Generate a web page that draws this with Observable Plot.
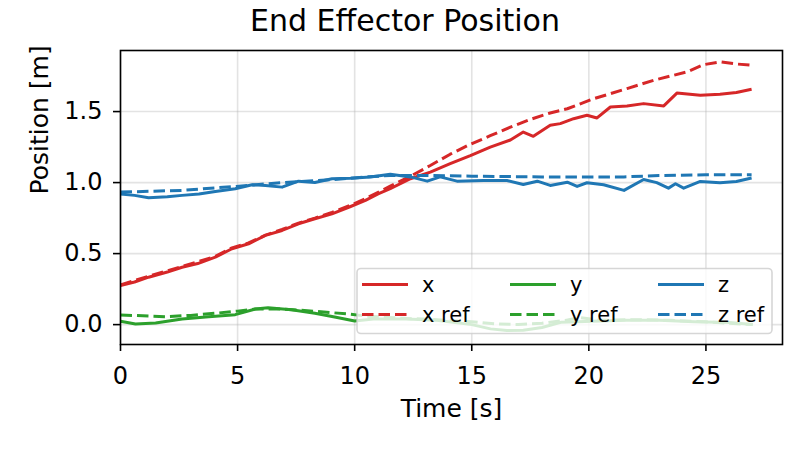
<!DOCTYPE html>
<html>
<head>
<meta charset="utf-8">
<script src="https://cdn.jsdelivr.net/npm/d3@7"></script>
<script src="https://cdn.jsdelivr.net/npm/@observablehq/plot@0.6"></script>
<style>
  body { margin: 0; background: #fff; font-family: "DejaVu Sans", sans-serif; }
  #wrap { position: relative; width: 810px; height: 450px; overflow: hidden; }
  #title { box-sizing: border-box; height: 44px; padding-top: 6px; line-height: 30px; font-size: 30px; text-align: center; width: 810px; color: #000; }
  #legend { position: absolute; left: 0; top: 0; pointer-events: none; }
</style>
</head>
<body>
<div id="wrap">
  <div id="title">End Effector Position</div>
  <div id="chart"></div>
  <svg id="legend" width="810" height="450"></svg>
</div>
<script>
// ---- data ----
const xTicks = [0, 5, 10, 15, 20, 25];
const yTicks = [0, 0.5, 1.0, 1.5];

const timeX = [0, 0.6, 1.2, 2.0, 2.63, 3.3, 4.05, 4.76, 5.47, 6.19, 6.9, 7.6, 8.3, 9.03, 9.8, 10.46, 11.0, 11.52, 12.38, 13.23, 14.08, 14.94, 15.79, 16.65, 17.2, 17.63, 18.35, 18.78, 19.35, 19.92, 20.35, 20.92, 21.63, 22.34, 23.2, 23.76, 24.76, 25.6, 26.3, 26.95];
const posX  = [0.275, 0.30, 0.334, 0.37, 0.404, 0.43, 0.475, 0.534, 0.569, 0.628, 0.663, 0.71, 0.745, 0.78, 0.83, 0.875, 0.92, 0.957, 1.027, 1.074, 1.133, 1.19, 1.25, 1.30, 1.356, 1.326, 1.403, 1.415, 1.45, 1.474, 1.455, 1.532, 1.54, 1.556, 1.54, 1.63, 1.615, 1.622, 1.634, 1.657];

const timeXRef = [0, 1.2, 2.63, 4.05, 4.76, 5.47, 6.19, 6.9, 7.6, 8.3, 9.03, 9.82, 10.5, 11.52, 12.38, 13.23, 14.08, 14.94, 15.79, 16.65, 17.5, 18.35, 19.08, 20.2, 21.63, 22.77, 24.2, 24.9, 25.6, 26.3, 26.95];
const posXRef  = [0.28, 0.34, 0.41, 0.48, 0.54, 0.575, 0.63, 0.67, 0.715, 0.75, 0.79, 0.84, 0.89, 0.975, 1.045, 1.12, 1.2, 1.27, 1.33, 1.39, 1.445, 1.49, 1.52, 1.59, 1.662, 1.72, 1.78, 1.83, 1.85, 1.835, 1.826];

const timeY = [0, 0.64, 1.5, 2.63, 3.77, 4.9, 5.76, 6.3, 7.3, 8.3, 9.2, 10.0, 10.8, 12.2, 13.5, 15.0, 15.8, 16.5, 17.2, 18.0, 18.8, 19.5, 20.5, 21.6, 23.0, 24.5, 26.0, 27.0];
const posY  = [0.023, 0.005, 0.012, 0.04, 0.056, 0.07, 0.11, 0.118, 0.104, 0.08, 0.052, 0.025, 0.04, 0.04, 0.03, 0.0, -0.03, -0.042, -0.04, -0.02, 0.016, 0.02, 0.025, 0.03, 0.03, 0.02, 0.015, 0.0];

const timeYRef = [0, 1.93, 3.0, 4.05, 5.0, 5.76, 6.9, 8.3, 9.7, 10.5, 12.0, 13.5, 15.0, 16.0, 17.0, 18.0, 19.0, 19.6, 20.5, 22.0, 23.5, 25.0, 27.0];
const posYRef  = [0.068, 0.056, 0.065, 0.08, 0.095, 0.11, 0.11, 0.094, 0.075, 0.06, 0.045, 0.035, 0.02, 0.005, 0.0, 0.01, 0.03, 0.05, 0.03, 0.035, 0.03, 0.02, 0.0];

const timeZ = [0, 0.6, 1.2, 2.0, 2.63, 3.35, 4.05, 4.9, 5.62, 6.19, 6.9, 7.6, 8.3, 9.03, 9.82, 10.67, 11.52, 12.38, 13.1, 13.65, 14.37, 15.5, 16.5, 17.2, 17.8, 18.35, 19.08, 19.5, 19.92, 20.63, 21.5, 22.34, 22.9, 23.4, 23.7, 24.05, 24.76, 25.6, 26.3, 26.95];
const posZ  = [0.92, 0.91, 0.893, 0.90, 0.91, 0.92, 0.938, 0.957, 0.985, 0.98, 0.968, 1.01, 1.0, 1.027, 1.03, 1.039, 1.058, 1.04, 1.01, 1.04, 1.01, 1.015, 1.015, 0.987, 1.01, 0.98, 1.003, 0.973, 0.999, 0.985, 0.945, 1.022, 1.0, 0.961, 0.992, 0.961, 1.008, 0.999, 1.008, 1.032];

const timeZRef = [0, 2.63, 4.9, 6.9, 9.0, 10.5, 11.52, 13.0, 15.0, 18.0, 21.5, 23.0, 25.0, 26.95];
const posZRef  = [0.933, 0.945, 0.973, 1.0, 1.02, 1.04, 1.05, 1.05, 1.045, 1.04, 1.04, 1.05, 1.055, 1.056];

const seriesNames = ["x", "x ref", "y", "y ref", "z", "z ref"];

// ---- styles ----
const colorOf = {"x": "#d62728", "x ref": "#d62728", "y": "#2ca02c", "y ref": "#2ca02c", "z": "#1f77b4", "z ref": "#1f77b4"};
const dashOf = name => name.endsWith("ref") ? "11.5,5" : null;

const pairs = (ts, vs) => ts.map((t, i) => ({t, v: vs[i]}));
const seriesData = {
  "x": pairs(timeX, posX),
  "x ref": pairs(timeXRef, posXRef),
  "y": pairs(timeY, posY),
  "y ref": pairs(timeYRef, posYRef),
  "z": pairs(timeZ, posZ),
  "z ref": pairs(timeZRef, posZRef)
};

const lineMarks = seriesNames.map(name => Plot.line(seriesData[name], {
  x: "t", y: "v", stroke: colorOf[name], strokeWidth: 3,
  strokeDasharray: dashOf(name), strokeLinejoin: "round", strokeLinecap: "butt"
}));

const chart = Plot.plot({
  width: 810, height: 406,
  marginLeft: 120, marginRight: 28, marginTop: 6, marginBottom: 106,
  x: {domain: [0, 28.27]},
  y: {domain: [-0.14, 1.93]},
  style: {fontFamily: "DejaVu Sans", color: "black", background: "white", overflow: "visible"},
  marks: [
    Plot.gridX(xTicks, {stroke: "#b0b0b0", strokeOpacity: 0.35, strokeWidth: 1.6}),
    Plot.gridY(yTicks, {stroke: "#b0b0b0", strokeOpacity: 0.35, strokeWidth: 1.6}),
    ...lineMarks,
    Plot.frame({stroke: "black", strokeWidth: 1.6}),
    Plot.axisX(xTicks, {tickSize: 7, tickPadding: 15, fontSize: 24, strokeWidth: 1.6, label: null, tickFormat: d3.format("d")}),
    Plot.axisY(yTicks, {tickSize: 7, tickPadding: 11, fontSize: 24, strokeWidth: 1.6, label: null, tickFormat: d3.format(".1f")}),
    Plot.text(["Time [s]"], {text: d => d, frameAnchor: "bottom", dy: 72, lineAnchor: "bottom", fontSize: 25, fill: "black"}),
    Plot.text(["Position [m]"], {text: d => d, frameAnchor: "left", dx: -81, dy: -3, rotate: -90, fontSize: 25, fill: "black"})
  ]
});
document.getElementById("chart").appendChild(chart);

// ---- legend overlay (semi-transparent box like the reference) ----
const lg = d3.select("#legend");
lg.append("rect")
  .attr("x", 357).attr("y", 268.5).attr("width", 415).attr("height", 65)
  .attr("rx", 4).attr("ry", 4)
  .attr("fill", "white").attr("fill-opacity", 0.8)
  .attr("stroke", "#cccccc").attr("stroke-opacity", 0.8).attr("stroke-width", 1.6);
const colX = [362, 510, 658];
const rowY = [284.5, 314.5];
seriesNames.forEach((name, i) => {
  const c = Math.floor(i / 2), r = i % 2;
  const x0 = colX[c], y0 = rowY[r];
  lg.append("line")
    .attr("x1", x0).attr("x2", x0 + 46).attr("y1", y0).attr("y2", y0)
    .attr("stroke", colorOf[name]).attr("stroke-width", 3)
    .attr("stroke-dasharray", dashOf(name));
  lg.append("text")
    .attr("x", x0 + 60).attr("y", y0 + 7.3)
    .attr("font-family", "DejaVu Sans").attr("font-size", 21).attr("fill", "black")
    .text(name);
});
</script>
</body>
</html>
